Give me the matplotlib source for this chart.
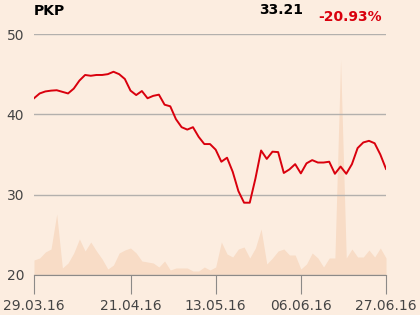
import matplotlib.pyplot as plt
import numpy as np

# Kurs PKP (sesje od 29.03.16 do 27.06.16)
kurs = [42.0, 42.6, 42.85, 42.95, 43.0, 42.8, 42.6, 43.2, 44.2, 44.9,
        44.8, 44.9, 44.9, 45.0, 45.3, 45.0, 44.4, 42.95, 42.4, 42.9,
        42.0, 42.3, 42.45, 41.2, 41.0, 39.4, 38.4, 38.1, 38.4, 37.2,
        36.3, 36.3, 35.6, 34.1, 34.6, 32.85, 30.45, 29.0, 29.0, 32.0,
        35.5, 34.45, 35.35, 35.3, 32.7, 33.15, 33.8, 32.65, 33.9, 34.3,
        34.0, 34.0, 34.1, 32.6, 33.5, 32.6, 33.8, 35.8, 36.5, 36.7,
        36.4, 35.0, 33.21]
# Wolumen (tys. szt.)
wolumen = [150, 170, 230, 260, 610, 70, 120, 220, 360, 240,
           330, 240, 160, 60, 100, 220, 250, 270, 220, 140,
           130, 120, 80, 140, 50, 70, 70, 70, 40, 40,
           80, 50, 80, 330, 210, 180, 260, 280, 170, 270,
           460, 110, 170, 240, 260, 200, 200, 60, 110, 220,
           170, 80, 170, 170, 2150, 170, 260, 180, 180, 250,
           180, 270, 170]
daty = ['29.03.16', '21.04.16', '13.05.16', '06.06.16', '27.06.16']
daty_idx = [0, 17, 32, 47, 62]

tlo = '#fcede0'
fig = plt.figure(figsize=(4.2, 3.15), dpi=100, facecolor=tlo)
ax = fig.add_axes([34/420, 40/315, 352/420, 241/315])
ax.set_facecolor(tlo)
x = np.arange(len(kurs))

# wolumen na osi pomocniczej
ax2 = ax.twinx()
ax2.fill_between(x, 0, wolumen, color='#f8dcc6', lw=0)
ax2.set_ylim(0, 2410)
ax2.axis('off')
ax.set_zorder(ax2.get_zorder() + 1)
ax.patch.set_visible(False)
ax2.patch.set_facecolor(tlo)

ax.plot(x, kurs, color='#d9000d', lw=1.4)
ax.set_xlim(0, len(kurs) - 1)
ax.set_ylim(20, 50)
ax.set_yticks([20, 30, 40, 50])
ax.grid(axis='y', color='#b3b0ad', lw=1)
ax.set_xticks(daty_idx)
ax.set_xticklabels(daty)
for s in ['left', 'right', 'top']:
    ax.spines[s].set_visible(False)
ax.spines['bottom'].set_color('#8c8a88')
ax.tick_params(axis='y', length=0, pad=7, labelsize=10, labelcolor='#444444')
ax.tick_params(axis='x', length=14, color='#8c8a88', pad=3, labelsize=10,
               labelcolor='#444444')

fig.text(34/420, 1 - 11/315, 'PKP', fontsize=10, fontweight='bold', va='center')
fig.text(303/420, 1 - 10/315, '33.21', fontsize=10, fontweight='bold',
         va='center', ha='right')
fig.text(382/420, 1 - 17/315, '-20.93%', fontsize=10, fontweight='bold',
         va='center', ha='right', color='#d9000d')

fig.savefig('out.png', dpi=100, facecolor=tlo)
